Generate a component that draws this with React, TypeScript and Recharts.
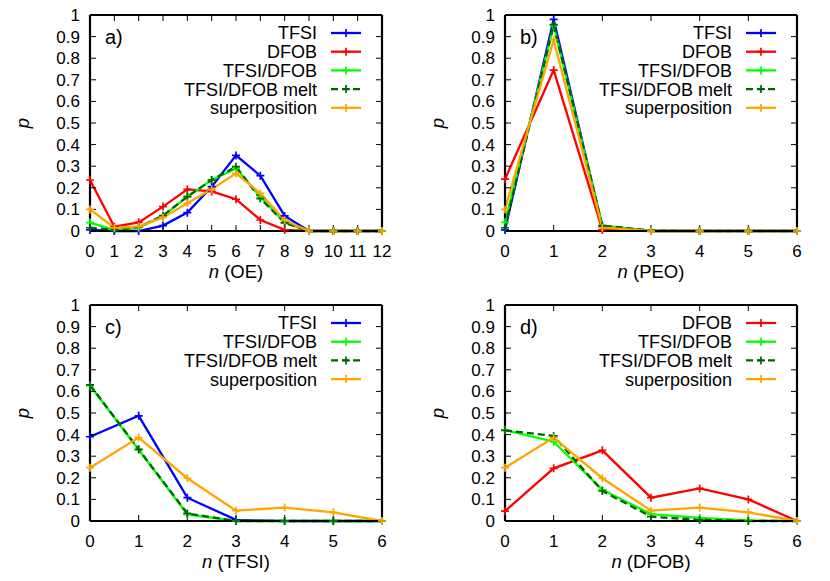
import React from 'react';
import { LineChart, Line, XAxis, YAxis, Legend, Label } from 'recharts';

// ---------- data ----------
const nOE = [0, 1, 2, 3, 4, 5, 6, 7, 8, 9, 10, 11, 12];
const oeTFSI = [0.005, 0, 0, 0.025, 0.085, 0.205, 0.35, 0.256, 0.07, 0, 0, 0, 0];
const oeDFOB = [0.236, 0.02, 0.04, 0.113, 0.193, 0.183, 0.147, 0.051, 0.005, 0, 0, 0, 0];
const oeMix = [0.039, 0.005, 0.015, 0.07, 0.159, 0.236, 0.29, 0.159, 0.039, 0, 0, 0, 0];
const oeMelt = [0.015, 0.005, 0.018, 0.071, 0.159, 0.236, 0.298, 0.15, 0.038, 0, 0, 0, 0];
const oeSup = [0.1, 0.015, 0.02, 0.063, 0.128, 0.193, 0.267, 0.174, 0.05, 0, 0, 0, 0];

const n6 = [0, 1, 2, 3, 4, 5, 6];
const peoTFSI = [0.005, 0.98, 0.02, 0, 0, 0, 0];
const peoDFOB = [0.24, 0.745, 0.005, 0, 0, 0, 0];
const peoMix = [0.04, 0.95, 0.025, 0, 0, 0, 0];
const peoMelt = [0.015, 0.955, 0.025, 0.002, 0, 0, 0];
const peoSup = [0.1, 0.885, 0.015, 0, 0, 0, 0];

const tfsiTFSI = [0.39, 0.487, 0.108, 0.005, 0, 0, 0];
const tfsiMix = [0.627, 0.33, 0.031, 0, 0, 0, 0];
const tfsiMelt = [0.63, 0.332, 0.035, 0, 0, 0, 0];
const tfsiSup = [0.247, 0.386, 0.198, 0.048, 0.062, 0.04, 0];

const dfobDFOB = [0.046, 0.244, 0.327, 0.108, 0.151, 0.1, 0];
const dfobMix = [0.421, 0.367, 0.144, 0.032, 0.014, 0.003, 0];
const dfobMelt = [0.42, 0.394, 0.139, 0.02, 0.005, 0, 0];
const dfobSup = [0.247, 0.386, 0.198, 0.048, 0.062, 0.04, 0];

const xTicksOE = nOE;
const xTicks6 = n6;
const yTicks = [0, 0.1, 0.2, 0.3, 0.4, 0.5, 0.6, 0.7, 0.8, 0.9, 1];

const SERIES: Record<string, { name: string; color: string; dash?: string }> = {
  tfsi: { name: 'TFSI', color: '#0000ff' },
  dfob: { name: 'DFOB', color: '#ff0000' },
  mix: { name: 'TFSI/DFOB', color: '#00ff00' },
  melt: { name: 'TFSI/DFOB melt', color: '#006400', dash: '7 4' },
  sup: { name: 'superposition', color: '#ffa500' },
};

function rows(xs: number[], cols: Record<string, number[]>) {
  return xs.map((x, i) => {
    const r: any = { n: x };
    Object.keys(cols).forEach((k) => (r[k] = cols[k][i]));
    return r;
  });
}

const FONT = '"Liberation Sans", Arial, sans-serif';
const W = 415;
const H = 290;
const TICK_FS = 17;
const LEG_FS = 18;
const LAB_FS = 18.5;
const LINE_W = 2.3;

const Plus = (props: any) => {
  const { cx, cy, stroke } = props;
  if (cx == null || cy == null || isNaN(cx) || isNaN(cy)) return <g />;
  return (
    <path
      d={`M${cx - 4},${cy}H${cx + 4}M${cx},${cy - 4}V${cy + 4}`}
      stroke={stroke}
      strokeWidth={1.7}
      strokeDasharray="none"
      fill="none"
    />
  );
};

const noTick = () => <g />;

type PanelProps = {
  data: any[];
  keys: string[];
  xMax: number;
  xTicks: number[];
  xLabel: string;
  letter: string;
};

function Panel({ data, keys, xMax, xTicks, xLabel, letter }: PanelProps) {
  const legendContent = () => (
    <svg width={W} height={130} style={{ display: 'block' }}>
      {keys.map((k, i) => {
        const s = SERIES[k];
        const y = 33 + i * 18.7;
        return (
          <g key={k}>
            <text
              x={317}
              y={y}
              dy="0.36em"
              textAnchor="end"
              fontSize={LEG_FS}
              fontFamily={FONT}
              fill="#000"
            >
              {s.name}
            </text>
            <line
              x1={331}
              x2={361}
              y1={y}
              y2={y}
              stroke={s.color}
              strokeWidth={LINE_W}
              strokeDasharray={s.dash}
            />
            <path d={`M342,${y}H350M346,${y - 4}V${y + 4}`} stroke={s.color} strokeWidth={1.7} />
          </g>
        );
      })}
    </svg>
  );

  return (
    <LineChart
      width={W}
      height={H}
      data={data}
      margin={{ top: 14, right: 32, left: 0, bottom: 0 }}
      style={{ fontFamily: FONT }}
    >
      <XAxis
        dataKey="n"
        type="number"
        domain={[0, xMax]}
        ticks={xTicks}
        interval={0}
        height={59}
        tickSize={-6}
        tickMargin={20}
        tick={{ fill: '#000', fontSize: TICK_FS, fontFamily: FONT }}
        tickLine={{ stroke: '#000', strokeWidth: 1 }}
        axisLine={{ stroke: '#000', strokeWidth: 2.2 }}
      >
        <Label
          content={(p: any) => {
            const vb = p.viewBox || { x: 90, y: 231, width: 292 };
            return (
              <text
                x={vb.x + vb.width / 2}
                y={vb.y + 47}
                textAnchor="middle"
                fontSize={LAB_FS}
                fontFamily={FONT}
                fill="#000"
              >
                <tspan fontStyle="italic">n</tspan> {xLabel}
              </text>
            );
          }}
        />
      </XAxis>
      <XAxis
        xAxisId="t"
        orientation="top"
        dataKey="n"
        type="number"
        domain={[0, xMax]}
        ticks={xTicks}
        interval={0}
        height={1}
        tickSize={-6}
        tick={noTick}
        tickLine={{ stroke: '#000', strokeWidth: 1 }}
        axisLine={{ stroke: '#000', strokeWidth: 2.2 }}
      >
        <Label
          content={(p: any) => {
            const vb = p.viewBox || { x: 90, y: 14, height: 1 };
            return (
              <text x={vb.x + 15} y={vb.y + 30} fontSize={20} fontFamily={FONT} fill="#000">
                {letter}
              </text>
            );
          }}
        />
      </XAxis>
      <YAxis
        type="number"
        domain={[0, 1]}
        ticks={yTicks}
        interval={0}
        width={90}
        tickSize={-6}
        tickMargin={16}
        tickFormatter={(v: number) => String(+v.toFixed(1))}
        tick={{ fill: '#000', fontSize: TICK_FS, fontFamily: FONT }}
        tickLine={{ stroke: '#000', strokeWidth: 1 }}
        axisLine={{ stroke: '#000', strokeWidth: 2.2 }}
      >
        <Label
          content={(p: any) => {
            const vb = p.viewBox || { x: 0, y: 15, width: 90, height: 216 };
            const cy = vb.y + vb.height / 2;
            return (
              <text
                x={23}
                y={cy}
                dy="0.3em"
                textAnchor="middle"
                transform={`rotate(-90, 23, ${cy})`}
                fontSize={LAB_FS}
                fontStyle="italic"
                fontFamily={FONT}
                fill="#000"
              >
                p
              </text>
            );
          }}
        />
      </YAxis>
      <YAxis
        yAxisId="r"
        orientation="right"
        type="number"
        domain={[0, 1]}
        ticks={yTicks}
        interval={0}
        width={1}
        tickSize={-6}
        tick={noTick}
        tickLine={{ stroke: '#000', strokeWidth: 1 }}
        axisLine={{ stroke: '#000', strokeWidth: 2.2 }}
      />
      <Legend
        layout="horizontal"
        verticalAlign="middle"
        align="center"
        content={legendContent}
        wrapperStyle={{ position: 'absolute', left: 0, top: 0, width: W, height: 130, pointerEvents: 'none' }}
      />
      <Line
        xAxisId="t"
        yAxisId="r"
        dataKey={keys[0]}
        stroke="none"
        dot={false}
        activeDot={false}
        legendType="none"
        isAnimationActive={false}
      />
      {keys.map((k) => (
        <Line
          key={k}
          dataKey={k}
          name={SERIES[k].name}
          stroke={SERIES[k].color}
          strokeWidth={LINE_W}
          strokeDasharray={SERIES[k].dash}
          dot={<Plus />}
          activeDot={false}
          isAnimationActive={false}
          type="linear"
        />
      ))}
    </LineChart>
  );
}

const dataA = rows(nOE, { tfsi: oeTFSI, dfob: oeDFOB, mix: oeMix, melt: oeMelt, sup: oeSup });
const dataB = rows(n6, { tfsi: peoTFSI, dfob: peoDFOB, mix: peoMix, melt: peoMelt, sup: peoSup });
const dataC = rows(n6, { tfsi: tfsiTFSI, mix: tfsiMix, melt: tfsiMelt, sup: tfsiSup });
const dataD = rows(n6, { dfob: dfobDFOB, mix: dfobMix, melt: dfobMelt, sup: dfobSup });

export default function App() {
  const cell = (left: number, top: number): React.CSSProperties => ({
    position: 'absolute',
    left,
    top,
    width: W,
    height: H,
  });
  return (
    <div
      style={{
        position: 'absolute',
        left: 0,
        top: 0,
        width: 830,
        height: 581,
        background: '#fff',
        fontFamily: FONT,
      }}
    >
      <div style={cell(0, 0)}>
        <Panel data={dataA} keys={['tfsi', 'dfob', 'mix', 'melt', 'sup']} xMax={12} xTicks={xTicksOE} xLabel="(OE)" letter="a)" />
      </div>
      <div style={cell(415, 0)}>
        <Panel data={dataB} keys={['tfsi', 'dfob', 'mix', 'melt', 'sup']} xMax={6} xTicks={xTicks6} xLabel="(PEO)" letter="b)" />
      </div>
      <div style={cell(0, 290)}>
        <Panel data={dataC} keys={['tfsi', 'mix', 'melt', 'sup']} xMax={6} xTicks={xTicks6} xLabel="(TFSI)" letter="c)" />
      </div>
      <div style={cell(415, 290)}>
        <Panel data={dataD} keys={['dfob', 'mix', 'melt', 'sup']} xMax={6} xTicks={xTicks6} xLabel="(DFOB)" letter="d)" />
      </div>
    </div>
  );
}
